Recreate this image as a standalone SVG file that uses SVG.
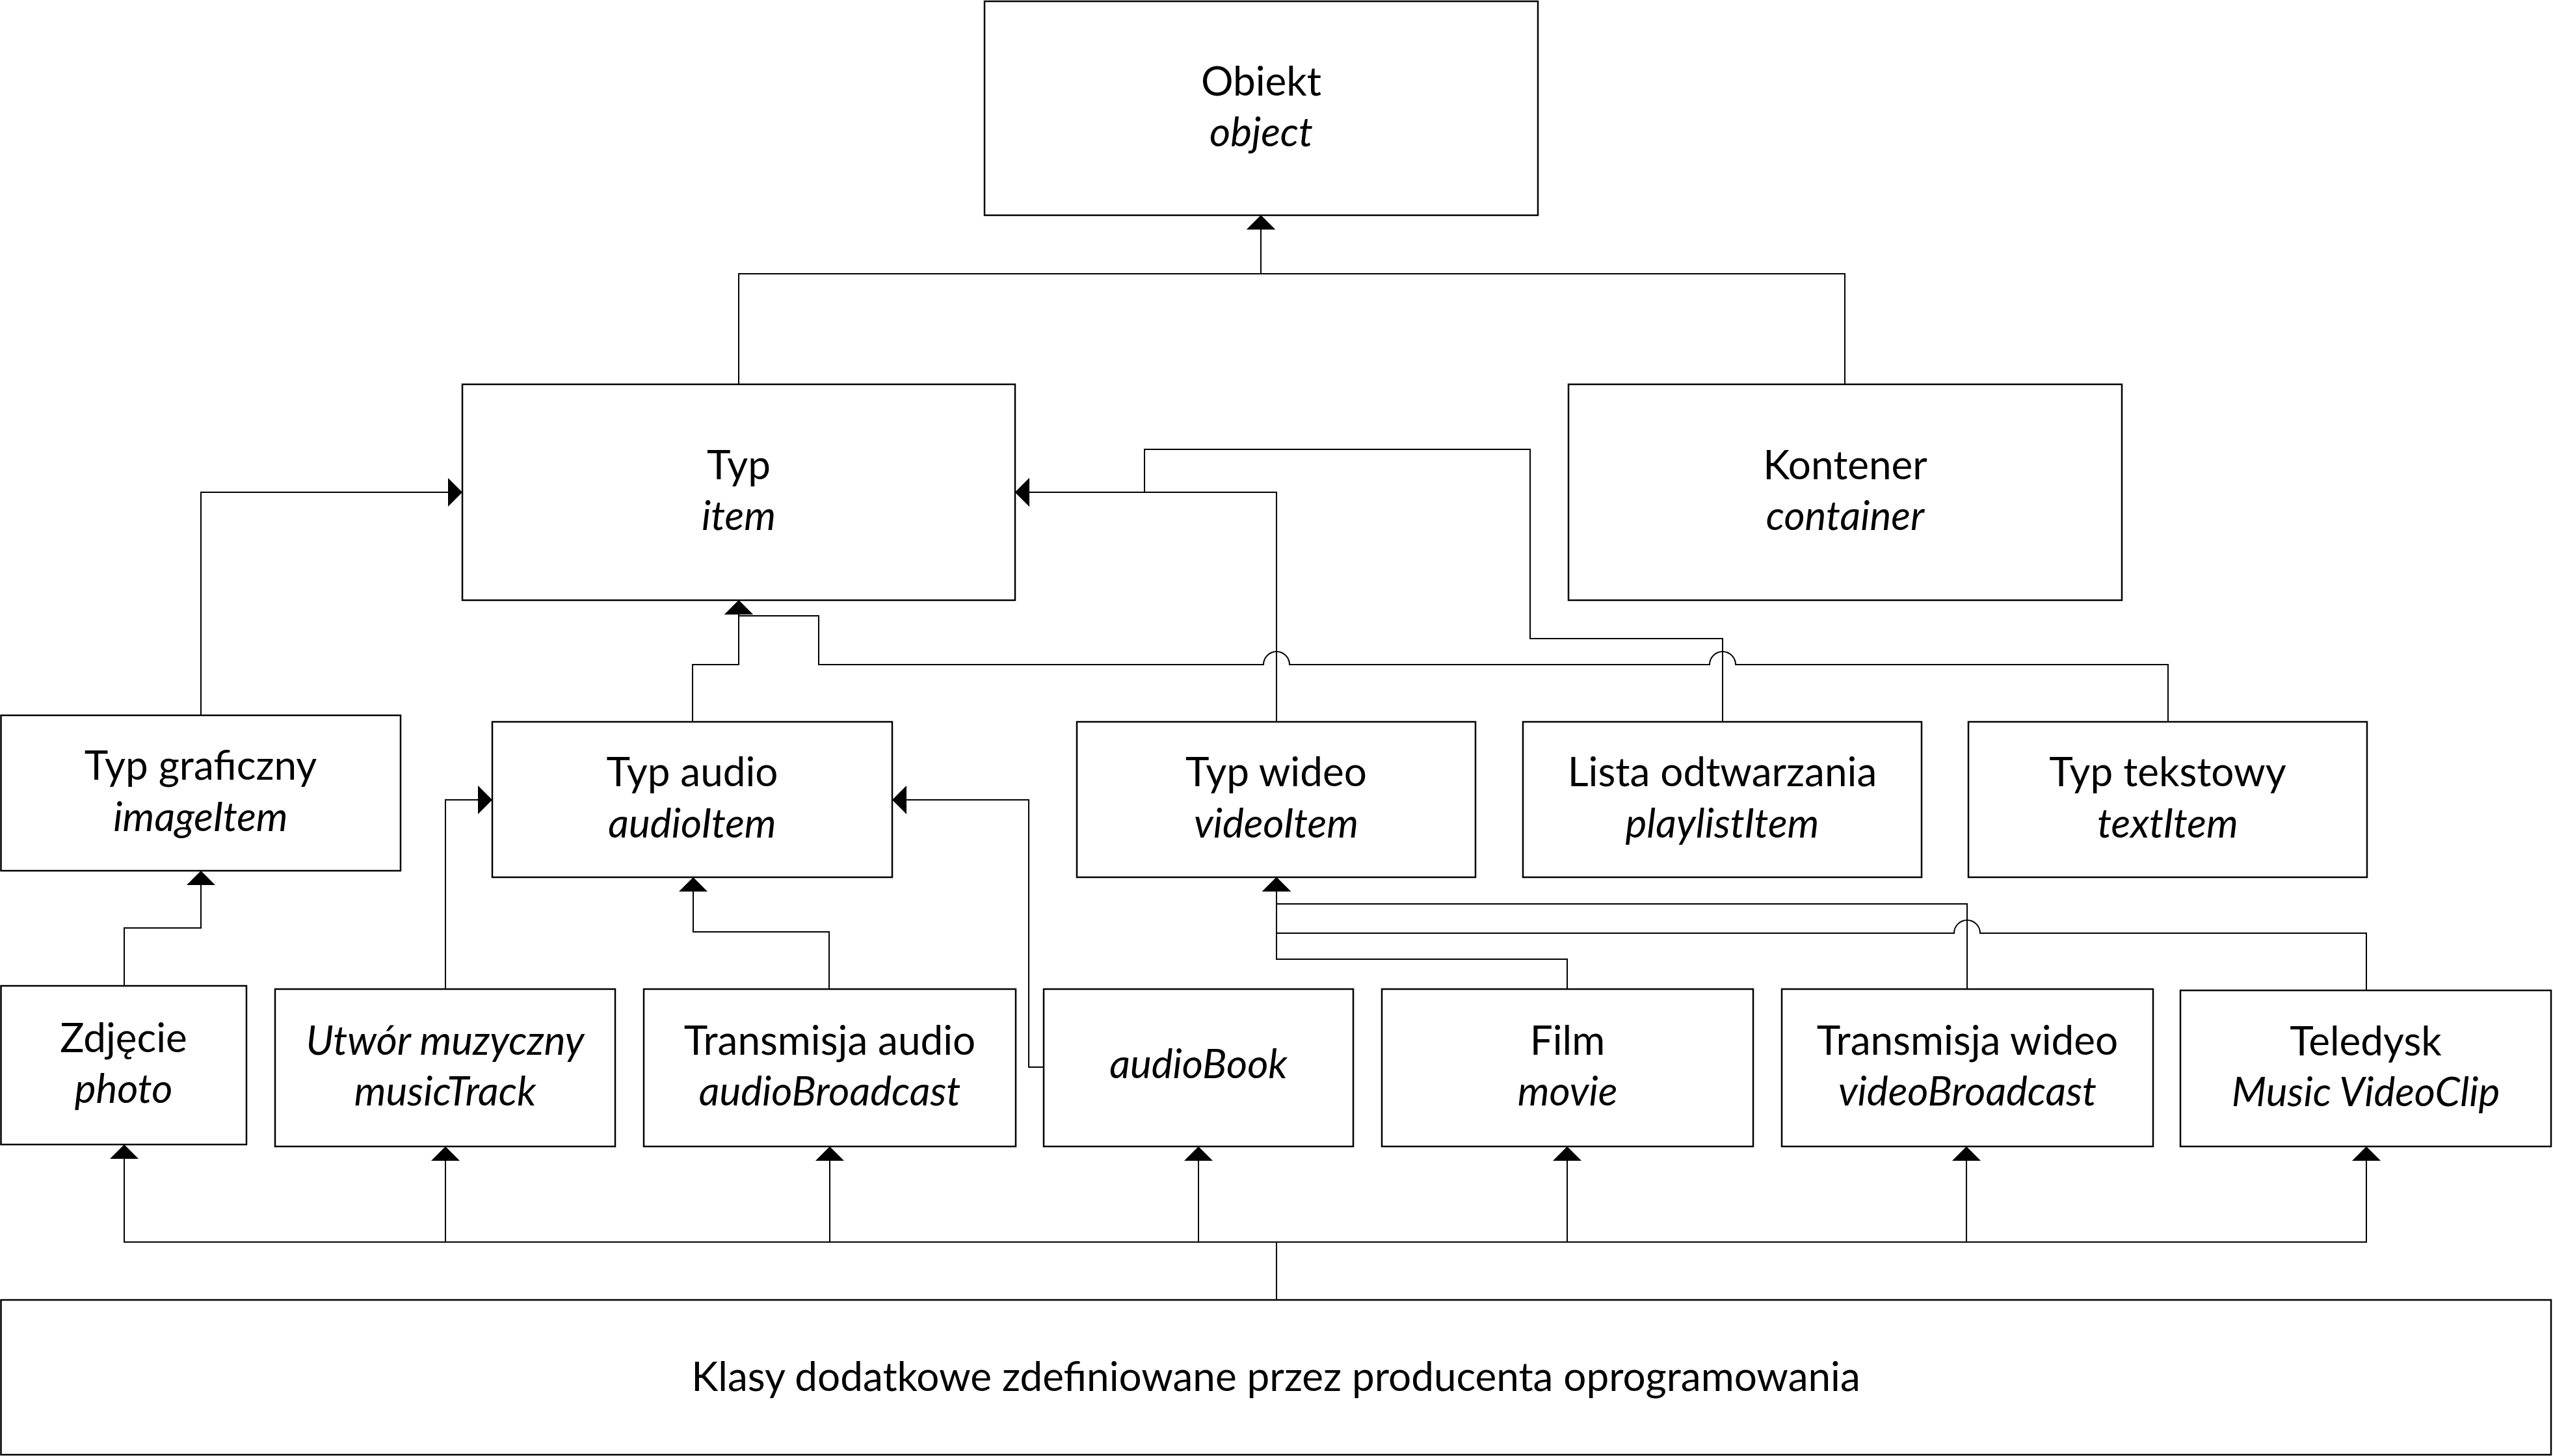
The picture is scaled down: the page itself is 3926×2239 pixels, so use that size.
<svg xmlns="http://www.w3.org/2000/svg" width="3926" height="2239" viewBox="0 0 3926 2239">
<style>
.box{fill:#fff;stroke:#000;stroke-width:2.5}
.c{fill:none;stroke:#000;stroke-width:2;marker-end:url(#tri)}
text{font-family:Lato,"Liberation Sans",sans-serif;font-size:62px;text-anchor:middle;fill:#000}
.i{font-style:italic}
</style>
<defs>
<marker id="tri" viewBox="0 0 22 44" refX="22" refY="22" markerWidth="22" markerHeight="44" markerUnits="userSpaceOnUse" orient="auto">
<path d="M0,0 L22,22 L0,44 Z" fill="#000"/>
</marker>
</defs>
<rect width="3926" height="2239" fill="#fff"/>
<g id="connectors">
<path class="c" d="M1136,591 V421 H1939 V331"/>
<path class="c" d="M2837,591 V421 H1939 V331"/>
<path class="c" d="M309,1100 V757 H711"/>
<path class="c" d="M1065,1110 V1022 H1136 V923"/>
<path class="c" d="M1963,1110 V757 H1561"/>
<path class="c" d="M2649,1110 V982 H2353 V691 H1760 V757 H1561"/>
<path class="c" d="M3334,1110 V1022 H2669 A20,20 0 0 0 2629,1022 H1983 A20,20 0 0 0 1943,1022 H1259 V947 H1136 V923"/>
<path class="c" d="M191,1516 V1427 H309 V1339"/>
<path class="c" d="M685,1521 V1230 H757"/>
<path class="c" d="M1605,1641 H1582 V1230 H1372"/>
<path class="c" d="M1275,1521 V1433 H1066 V1349"/>
<path class="c" d="M2410,1521 V1475 H1963 V1349"/>
<path class="c" d="M3025,1521 V1390 H1963 V1349"/>
<path class="c" d="M3639,1523 V1435 H3045 A20,20 0 0 0 3005,1435 H1963 V1349"/>
<path class="c" d="M1963,1999 V1910 H191 V1760"/>
<path class="c" d="M1963,1999 V1910 H685 V1763"/>
<path class="c" d="M1963,1999 V1910 H1276 V1763"/>
<path class="c" d="M1963,1999 V1910 H1843 V1763"/>
<path class="c" d="M1963,1999 V1910 H2410 V1763"/>
<path class="c" d="M1963,1999 V1910 H3024 V1763"/>
<path class="c" d="M1963,1999 V1910 H3639 V1763"/>
</g>
<g id="obiekt"><rect class="box" x="1514" y="2" width="851" height="329"/><text x="1939.5" y="147">Obiekt</text><text class="i" x="1939.5" y="225">object</text></g>
<g id="typ"><rect class="box" x="711" y="591" width="850" height="332"/><text x="1136" y="737">Typ</text><text class="i" x="1136" y="815">item</text></g>
<g id="kontener"><rect class="box" x="2412" y="591" width="851" height="332"/><text x="2837.5" y="737">Kontener</text><text class="i" x="2837.5" y="815">container</text></g>
<g id="typ-graficzny"><rect class="box" x="1.5" y="1100" width="614.5" height="239"/><text x="308.5" y="1199">Typ graficzny</text><text class="i" x="308.5" y="1278">imageItem</text></g>
<g id="typ-audio"><rect class="box" x="757" y="1110" width="615" height="239"/><text x="1064.5" y="1209">Typ audio</text><text class="i" x="1064.5" y="1288">audioItem</text></g>
<g id="typ-wideo"><rect class="box" x="1656" y="1110" width="613" height="239"/><text x="1962.5" y="1209">Typ wideo</text><text class="i" x="1962.5" y="1288">videoItem</text></g>
<g id="lista"><rect class="box" x="2342" y="1110" width="613" height="239"/><text x="2648.5" y="1209">Lista odtwarzania</text><text class="i" x="2648.5" y="1288">playlistItem</text></g>
<g id="typ-tekstowy"><rect class="box" x="3027" y="1110" width="613" height="239"/><text x="3333.5" y="1209">Typ tekstowy</text><text class="i" x="3333.5" y="1288">textItem</text></g>
<g id="zdjecie"><rect class="box" x="1.5" y="1516" width="377.5" height="244"/><text x="190" y="1618">Zdjęcie</text><text class="i" x="190" y="1696">photo</text></g>
<g id="utwor"><rect class="box" x="423" y="1521" width="523" height="242"/><text class="i" x="684.5" y="1622">Utwór muzyczny</text><text class="i" x="684.5" y="1700">musicTrack</text></g>
<g id="transmisja-audio"><rect class="box" x="990" y="1521" width="572" height="242"/><text x="1276" y="1622">Transmisja audio</text><text class="i" x="1276" y="1700">audioBroadcast</text></g>
<g id="audiobook"><rect class="box" x="1605" y="1521" width="476" height="242"/><text class="i" x="1843" y="1658">audioBook</text></g>
<g id="film"><rect class="box" x="2125" y="1521" width="571" height="242"/><text x="2410.5" y="1622">Film</text><text class="i" x="2410.5" y="1700">movie</text></g>
<g id="transmisja-wideo"><rect class="box" x="2740" y="1521" width="571" height="242"/><text x="3025.5" y="1622">Transmisja wideo</text><text class="i" x="3025.5" y="1700">videoBroadcast</text></g>
<g id="teledysk"><rect class="box" x="3353" y="1523" width="570" height="240"/><text x="3638" y="1623">Teledysk</text><text class="i" x="3638" y="1701">Music VideoClip</text></g>
<g id="klasy"><rect class="box" x="1.5" y="1999" width="3921.5" height="238"/><text x="1962" y="2139">Klasy dodatkowe zdefiniowane przez producenta oprogramowania</text></g>
</svg>
